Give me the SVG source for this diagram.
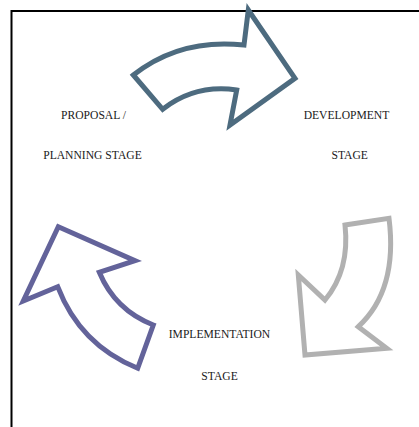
<svg xmlns="http://www.w3.org/2000/svg" width="419" height="427" viewBox="0 0 419 427">
  <style>
    .frame { fill: none; stroke: #000; stroke-width: 2; }
    .arrow { fill: #fff; stroke-width: 5; stroke-linejoin: miter; stroke-miterlimit: 10; }
    .label { font-family: "Liberation Serif", "Times New Roman", serif; font-size: 11.6px; fill: #1a1a1a; text-anchor: middle; }
  </style>
  <rect width="419" height="427" fill="#fff"/>
  <!-- page frame: top and left edges only -->
  <path class="frame" d="M 11.5 427 L 11.5 11 L 419 11"/>

  <g id="connectors">
    <!-- proposal -> development -->
    <path id="arrow-to-development" class="arrow" stroke="#4d6b7f"
          d="M 133.3 75 Q 180 38 244 45 L 248.3 10 L 295 78.3 L 230 125 L 236.7 90 Q 195 84 162.7 109.3 Z"/>
    <!-- development -> implementation -->
    <path id="arrow-to-implementation" class="arrow" stroke="#b1b1b1"
          d="M 345 225 L 389 218.3 Q 398 290 358.3 326.7 L 386.7 348.3 L 305 355 L 298.3 275 L 325 300 Q 350 270 345 225 Z"/>
    <!-- implementation -> proposal -->
    <path id="arrow-to-proposal" class="arrow" stroke="#63639a"
          d="M 58.3 226.7 L 135 260.7 L 99.3 272.3 Q 115 310 153.3 325 L 137.7 368.3 Q 80 345 57.7 286.7 L 23.3 301 Z"/>
  </g>

  <g id="proposal-stage">
    <text class="label" x="93.5" y="119.3">PROPOSAL /</text>
    <text class="label" x="92.5" y="159.3">PLANNING STAGE</text>
  </g>
  <g id="development-stage">
    <text class="label" x="346.5" y="119">DEVELOPMENT</text>
    <text class="label" x="349.7" y="159.3">STAGE</text>
  </g>
  <g id="implementation-stage">
    <text class="label" x="219.5" y="338.3">IMPLEMENTATION</text>
    <text class="label" x="219.5" y="380">STAGE</text>
  </g>
</svg>
